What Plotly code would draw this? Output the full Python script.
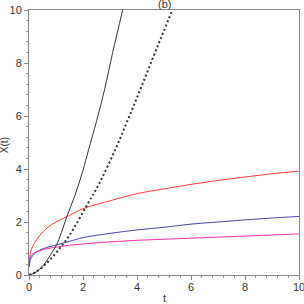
import plotly.graph_objects as go

# Black solid curve
t_black = [0, 0.2, 0.4, 0.6, 0.8, 1.0, 1.2, 1.4, 1.7, 2.0, 2.2, 2.5, 2.8, 3.1, 3.47]
x_black = [0, 0.07, 0.22, 0.45, 0.77, 1.1, 1.6, 2.2, 3.0, 3.95, 4.7, 5.8, 7.0, 8.4, 10.0]

# Black dotted curve
t_dot = [0, 0.25, 0.5, 0.75, 1.12, 1.5, 2.11, 2.6, 3.19, 3.7, 4.2, 4.75, 5.31]
x_dot = [0, 0.11, 0.3, 0.55, 0.98, 1.5, 2.57, 3.45, 4.72, 5.95, 7.2, 8.6, 10.0]

# Red curve
t_red = [0, 0.02, 0.05, 0.1, 0.2, 0.4, 0.7, 1, 1.5, 2, 3, 4, 5, 6, 7, 8, 9, 10]
x_red = [0.3, 0.6, 0.8, 1.0, 1.2, 1.5, 1.8, 2.0, 2.25, 2.5, 2.8, 3.07, 3.25, 3.42, 3.57, 3.7, 3.82, 3.92]

# Blue curve
t_blue = [0, 0.05, 0.1, 0.2, 0.4, 0.7, 1, 1.5, 2, 3, 4, 5, 6, 7, 8, 9, 10]
x_blue = [0.3, 0.55, 0.68, 0.8, 0.94, 1.05, 1.13, 1.27, 1.41, 1.57, 1.7, 1.8, 1.92, 2.0, 2.08, 2.15, 2.21]

# Magenta curve
t_mag = [0, 0.05, 0.1, 0.2, 0.4, 0.7, 1, 1.5, 2, 3, 4, 5, 6, 7, 8, 9, 10]
x_mag = [0.5, 0.68, 0.76, 0.84, 0.92, 1.0, 1.05, 1.12, 1.17, 1.25, 1.31, 1.35, 1.39, 1.43, 1.47, 1.51, 1.55]

FONT = "Liberation Sans, Arial"

fig = go.Figure()
fig.add_trace(go.Scatter(x=t_red, y=x_red, mode="lines", line=dict(color="#ff3b3b", width=1, shape="spline")))
fig.add_trace(go.Scatter(x=t_blue, y=x_blue, mode="lines", line=dict(color="#4646a8", width=1, shape="spline")))
fig.add_trace(go.Scatter(x=t_mag, y=x_mag, mode="lines", line=dict(color="#f030a8", width=1, shape="spline")))
fig.add_trace(go.Scatter(x=t_black, y=x_black, mode="lines", line=dict(color="#333333", width=1, shape="spline")))
fig.add_trace(go.Scatter(x=t_dot, y=x_dot, mode="lines", line=dict(color="#333333", width=2, dash="2px,2.5px", shape="spline")))

axis_common = dict(
    showline=True, linecolor="#888888", linewidth=1, mirror=True,
    ticks="outside", ticklen=4, tickcolor="#888888",
    showgrid=False, zeroline=False, automargin=False, ticklabeloverflow="allow",
    tickfont=dict(family=FONT, size=11, color="#333333"),
    minor=dict(ticks="outside", ticklen=2, tickcolor="#999999", dtick=0.4),
)
fig.update_xaxes(range=[0, 10], dtick=2, tick0=0, ticklabelstandoff=-2, **axis_common)
fig.update_yaxes(range=[0, 10], dtick=2, tick0=0, **axis_common)

fig.add_annotation(text="(b)", x=0.5, y=1, xref="paper", yref="paper", xanchor="center", yanchor="bottom",
                   yshift=-2, xshift=0, showarrow=False,
                   font=dict(family=FONT, size=11, color="#333333"))
fig.add_annotation(text="t", x=0.5, y=0, xref="paper", yref="paper", xanchor="center", yanchor="middle",
                   yshift=-23, showarrow=False,
                   font=dict(family=FONT, size=11, color="#333333"))
fig.add_annotation(text="X(t)", x=0, y=0.49, xref="paper", yref="paper", xanchor="center", yanchor="middle",
                   xshift=-25, textangle=-90, showarrow=False,
                   font=dict(family=FONT, size=10, color="#333333"))

fig.update_layout(width=304, height=304, margin=dict(l=29, r=5, t=10, b=29),
                  plot_bgcolor="white", paper_bgcolor="white", showlegend=False)
fig.write_html("out.html", config={"displayModeBar": False},
               post_script="document.body.style.margin='0';document.body.style.overflow='hidden';")
